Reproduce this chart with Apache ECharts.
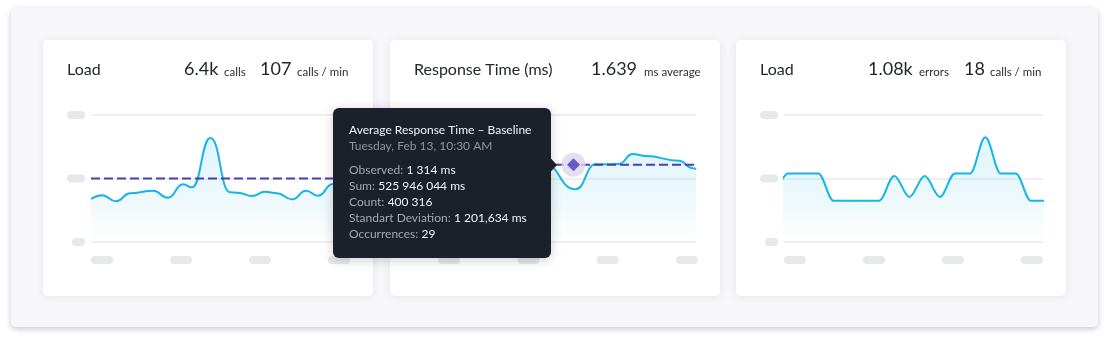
<!DOCTYPE html>
<html><head><meta charset="utf-8">
<script src="https://cdn.jsdelivr.net/npm/echarts@6/dist/echarts.min.js"></script>
<style>html,body{margin:0;padding:0;background:#ffffff;}#c{width:1110px;height:342px;}</style>
</head><body><div id="c"></div>
<script>
// ---------- data (time in minutes on x, value on y) ----------
const loadTimes  = [0, 2.09, 4.75, 7.41, 11.77, 14.62, 17.47, 19.18, 22.69, 26.39, 27.91, 30.57, 33.04, 35.32, 38.17, 40.82, 43.10, 45.95, 48.8];
const loadValues = [67.7, 73.5, 64.1, 76.7, 80.8, 69.8, 90.9, 86.1, 163.8, 78.3, 77.6, 72.4, 79.2, 76.7, 67.2, 80.8, 72.9, 91.3, 97.6];
const loadBaseline = 100;

const rtTimes  = [0, 4.18, 8.92, 13.67, 19.94, 26.01, 29.81, 34.18, 36.84, 39.30, 45.57, 48.23, 48.8];
const rtValues = [121.3, 110.2, 129.1, 113.4, 124.4, 83.0, 122.4, 122.8, 138.6, 135.4, 128.0, 116.1, 115.0];
const rtBaseline = 121.7;
const rtHoverTime = 25.63;

const errTimes  = [-2.12, 0.76, 3.64, 6.53, 9.41, 12.30, 15.18, 18.06, 20.95, 23.83, 26.72, 29.60, 32.48, 35.37, 38.25, 41.14, 44.02, 46.90, 49.79];
const errValues = [65, 108, 108, 108, 65, 65, 65, 65, 104, 71, 104, 71, 108, 108, 165, 108, 108, 65, 65];

const xTickMinutes = [0, 15, 30, 45];
const yTickValues = [0, 100, 200];

const cardTitles = ['Load', 'Response Time (ms)', 'Load'];
const cardStats = [
  [['6.4k', 'calls'], ['107', 'calls / min']],
  [['1.639', 'ms average']],
  [['1.08k', 'errors'], ['18', 'calls / min']]
];
const tipTitle = 'Average Response Time – Baseline';
const tipDate = 'Tuesday, Feb 13, 10:30 AM';
const tipLabels = ['Observed', 'Sum', 'Count', 'Standart Deviation', 'Occurrences'];
const tipValues = ['1 314 ms', '525 946 044 ms', '400 316', '1 201,634 ms', '29'];

// ---------- layout ----------
const FONT = 'Lato, "Noto Sans", sans-serif';
const LINE = '#17b5e6';
const BASE = '#4b3db6';
const cardX = [43, 390, 736];
const gridLeft = [91, 438, 784];
const gridW = [257, 258, 259];
const xMax = [48.8, 48.8, 49.2];
const statX = [[[184, 224], [260, 297]], [[591, 644]], [[868, 919], [964, 990]]];

const zip = (a, b) => a.map((v, i) => [v, b[i]]);
const fillGrad = {
  type: 'linear', x: 0, y: 150, x2: 0, y2: 242, global: true,
  colorStops: [
    { offset: 0, color: 'rgba(24,180,230,0.18)' },
    { offset: 0.55, color: 'rgba(24,180,230,0.11)' },
    { offset: 1, color: 'rgba(24,180,230,0.0)' }
  ]
};

const pill = { height: 8, lineHeight: 8, fontSize: 6, backgroundColor: '#e7e8ec', borderRadius: 4 };

const grids = [], xAxes = [], yAxes = [];
for (let i = 0; i < 3; i++) {
  grids.push({ left: gridLeft[i], top: 115, width: gridW[i], height: 127 });
  xAxes.push({
    type: 'value', gridIndex: i, min: 0, max: xMax[i], interval: 15,
    axisLine: { show: false }, axisTick: { show: false }, splitLine: { show: false },
    axisLabel: {
      align: 'left', verticalAlign: 'top', margin: 14,
      formatter: v => (xTickMinutes.indexOf(v) >= 0 ? '{p| }' : ''),
      rich: { p: Object.assign({ width: 22 }, pill) }
    }
  });
  yAxes.push({
    type: 'value', gridIndex: i, min: yTickValues[0], max: yTickValues[2], interval: 100,
    axisLine: { show: false }, axisTick: { show: false },
    splitLine: { show: true, lineStyle: { color: '#eff0f3', width: 2 } },
    axisLabel: {
      margin: 6,
      formatter: v => (v === 0 ? '{s| }' : '{p| }'),
      rich: { p: Object.assign({ width: 18 }, pill), s: Object.assign({ width: 13 }, pill) }
    }
  });
}

function mainLine(idx, xs, ys, smooth) {
  return {
    type: 'line', xAxisIndex: idx, yAxisIndex: idx, data: zip(xs, ys),
    smooth: smooth, smoothMonotone: 'x', showSymbol: false, symbol: 'none', z: 2,
    lineStyle: { color: LINE, width: 2 }, areaStyle: { color: fillGrad, origin: 'start' }
  };
}
function baseLine(idx, v) {
  return {
    type: 'line', xAxisIndex: idx, yAxisIndex: idx, data: [[0, v], [xMax[idx], v]],
    showSymbol: false, symbol: 'none', z: 3,
    lineStyle: { color: BASE, width: 2, type: [9, 4] }
  };
}

const series = [
  mainLine(0, loadTimes, loadValues, 0.5),
  baseLine(0, loadBaseline),
  mainLine(1, rtTimes, rtValues, 0.5),
  baseLine(1, rtBaseline),
  { type: 'scatter', xAxisIndex: 1, yAxisIndex: 1, data: [[rtHoverTime, rtBaseline]], symbol: 'circle', symbolSize: 24, z: 4, itemStyle: { color: '#dcd6ef' } },
  { type: 'scatter', xAxisIndex: 1, yAxisIndex: 1, data: [[rtHoverTime, rtBaseline]], symbol: 'diamond', symbolSize: 13, z: 5, itemStyle: { color: BASE } },
  mainLine(2, errTimes, errValues, 0.35)
];

// ---------- graphic: container, cards, headers, tooltip ----------
const g = [];
g.push({ type: 'rect', z: -11, shape: { x: 11, y: 8, width: 1087, height: 319, r: 5 },
  style: { fill: '#f7f7fb', shadowBlur: 6, shadowOffsetY: 2, shadowColor: 'rgba(0,0,0,0.22)' } });
for (let i = 0; i < 3; i++) {
  g.push({ type: 'rect', z: -10, shape: { x: cardX[i], y: 40, width: 330, height: 256, r: 5 },
    style: { fill: '#ffffff', shadowBlur: 8, shadowOffsetY: 1, shadowColor: 'rgba(30,40,70,0.09)' } });
  g.push({ type: 'text', z: 1, x: cardX[i] + 24, y: 70.3,
    style: { text: cardTitles[i], font: '16px ' + FONT, fill: '#23272e', verticalAlign: 'middle' } });
  cardStats[i].forEach((pair, j) => {
    g.push({ type: 'text', z: 1, x: statX[i][j][0], y: 69.3,
      style: { text: pair[0], font: '18px ' + FONT, fill: '#1f232a', verticalAlign: 'middle' } });
    g.push({ type: 'text', z: 1, x: statX[i][j][1], y: 71.8,
      style: { text: pair[1], font: '11.5px ' + FONT, fill: '#2a2e35', verticalAlign: 'middle' } });
  });
}
// tooltip
g.push({ type: 'rect', z: 100, shape: { x: 333, y: 108, width: 218, height: 150, r: 6 },
  style: { fill: '#1b212a', shadowBlur: 12, shadowOffsetY: 2, shadowColor: 'rgba(0,0,0,0.2)' } });
g.push({ type: 'polygon', z: 100, shape: { points: [[550, 157.5], [557, 165], [550, 172.5]] }, style: { fill: '#1b212a' } });
g.push({ type: 'text', z: 101, x: 349, y: 130,
  style: { text: tipTitle, font: '12px ' + FONT, fill: '#f3f4f6', verticalAlign: 'middle' } });
g.push({ type: 'text', z: 101, x: 349, y: 146,
  style: { text: tipDate, font: '12px ' + FONT, fill: '#8e95a0', verticalAlign: 'middle' } });
tipLabels.forEach((lab, k) => {
  g.push({ type: 'text', z: 101, x: 349, y: 170 + 16 * k,
    style: {
      text: '{l|' + lab + ':} {v|' + tipValues[k] + '}', verticalAlign: 'middle',
      rich: {
        l: { font: '12px ' + FONT, fill: '#a2a8b2' },
        v: { font: '12px ' + FONT, fill: '#f1f2f4' }
      }
    } });
});

const chart = echarts.init(document.getElementById('c'), null, { renderer: 'canvas' });
chart.setOption({
  animation: false,
  backgroundColor: 'transparent',
  grid: grids, xAxis: xAxes, yAxis: yAxes,
  series: series,
  graphic: { elements: g }
});
</script>
</body></html>
